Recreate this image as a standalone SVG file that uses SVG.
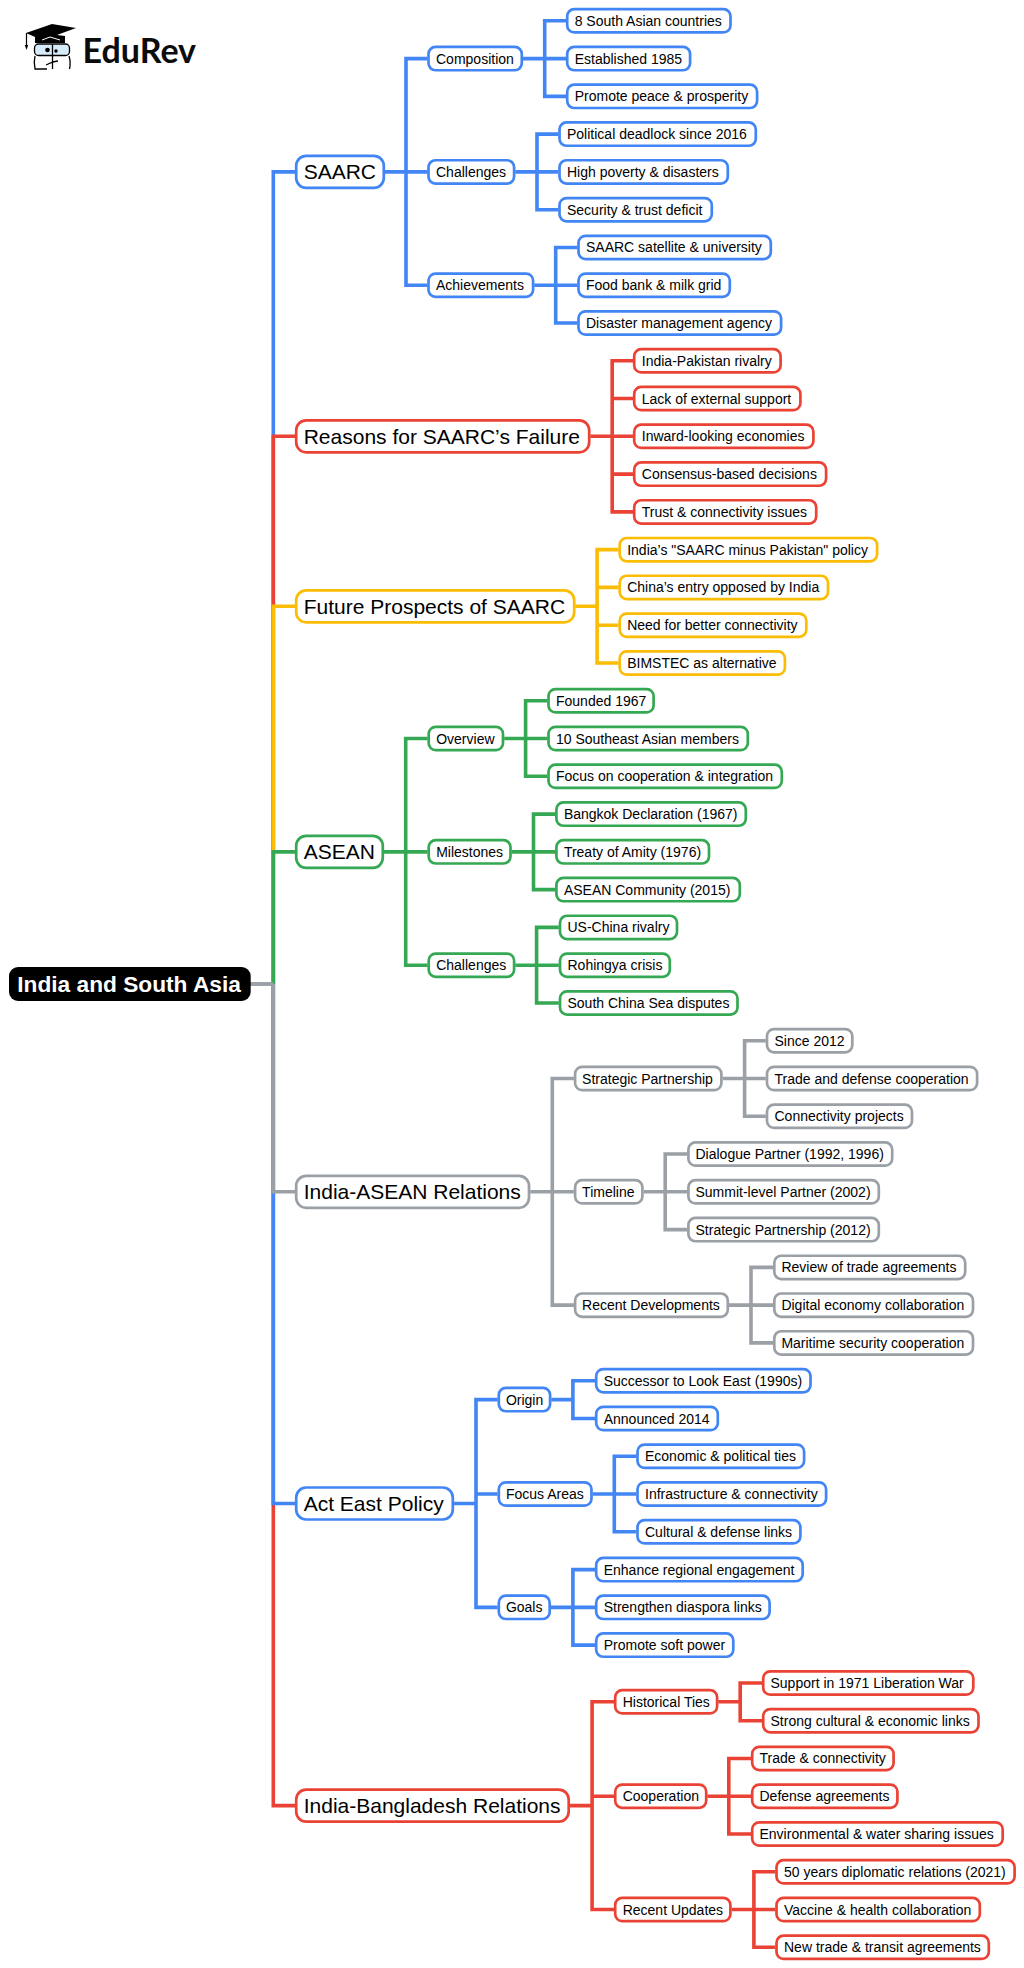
<svg xmlns="http://www.w3.org/2000/svg" width="1024" height="1968" viewBox="0 0 1024 1968">
<style>
text{font-family:"Liberation Sans",Arial,sans-serif;fill:#000}
rect{fill:#fff;stroke-width:2.7}
.n3 rect,.n2 rect{rx:7px}
.n1 rect{rx:10px}
.n3 text,.n2 text{font-size:14px}
.n1 text{font-size:21px}
.root rect{fill:#000;stroke:none;rx:9px}
.root text{font-size:22.700px;font-weight:bold;fill:#fff}
.logo text{font-family:Lato,"Open Sans",sans-serif;font-size:34px;font-weight:700;fill:#0c0c0c}
.b rect{stroke:#4285F4}.r rect{stroke:#EA4335}.y rect{stroke:#FBBC04}.g rect{stroke:#34A853}.k rect{stroke:#9AA0A6}
#connectors path{fill:none;stroke-width:3.600;stroke-linejoin:miter}
.cb{stroke:#4285F4}.cr{stroke:#EA4335}.cy{stroke:#FBBC04}.cg{stroke:#34A853}.ck{stroke:#9AA0A6}
</style>
<rect width="1024" height="1968" style="stroke:none"/>
<g id="logo" class="logo">
<path d="M26 33L52 24L76 28L57 35L65 36V43H35V37Z" fill="#000"/>
<path d="M26.500 33V46" stroke="#000" stroke-width="1.200" fill="none"/>
<path d="M24.800 45H28.200L26.500 50Z" fill="#000"/>
<path d="M42 40L50 37L60 40" stroke="#fff" stroke-width="1" fill="none"/>
<rect x="34.500" y="44" width="35" height="11.500" rx="4" style="fill:#d6ebf9;stroke:#000;stroke-width:1.300"/>
<path d="M35 56Q33.500 62 35 69H47M69 56Q71 62 69.500 69M52.500 44V62L46 65M52.500 62L58 61M52.500 62V69" fill="none" stroke="#000" stroke-width="1.300"/>
<circle cx="47.500" cy="50" r="2.300" fill="#000"/>
<circle cx="56" cy="51" r="1.700" fill="#000"/>
<text x="82.500" y="62.500">EduRev</text>
</g>
<g id="connectors">
<path class="cr" d="M273.300 984V1805.600H295"/>
<path class="cb" d="M273.300 984V1503.500H295"/>
<path class="ck" d="M250 984H273.300V1191.800H295"/>
<path class="cb" d="M273.300 984V171.900H295"/>
<path class="cr" d="M273.300 984V436.300H295"/>
<path class="cy" d="M273.300 984V606.300H295"/>
<path class="cg" d="M273.300 984V851.850H295"/>
<path class="ck" d="M250 984H273.300"/>
<path class="cb" d="M385 171.900H427.300M427.300 58.600H406V285.200H427.300"/>
<path class="cb" d="M523 58.600H566M566 20.800H544.700V96.350H566"/>
<path class="cb" d="M515.300 171.900H558.300M558.300 134.100H537V209.700H558.300"/>
<path class="cb" d="M534.300 285.200H577.300M577.300 247.450H555.700V323H577.300"/>
<path class="cr" d="M590.400 436.300H633M633 360.800H612.200V511.900H633M612.200 398.550H633M612.200 474.100H633"/>
<path class="cy" d="M575.400 606.300H597.100M618.500 549.650H597.100V663H618.500M597.100 587.400H618.500M597.100 625.200H618.500"/>
<path class="cg" d="M384 851.850H427.500M427.500 738.500H405.700V965.200H427.500"/>
<path class="cg" d="M504.200 738.500H547.300M547.300 700.750H525.600V776.300H547.300"/>
<path class="cg" d="M511.700 851.850H555.200M555.200 814.100H533.500V889.600H555.200"/>
<path class="cg" d="M515.300 965.200H558.800M558.800 927.400H536.600V1002.950H558.800"/>
<path class="ck" d="M530.200 1191.800H573.900M573.900 1078.500H552.300V1305.150H573.900"/>
<path class="ck" d="M722.600 1078.500H765.800M765.800 1040.700H744.600V1116.300H765.800"/>
<path class="ck" d="M643.600 1191.800H687.200M687.200 1154.050H665.200V1229.600H687.200"/>
<path class="ck" d="M729 1305.150H773.100M773.100 1267.400H751V1342.900H773.100"/>
<path class="cb" d="M454 1503.500H476M497.600 1399.600H476V1607.350H497.600M476 1494H497.600"/>
<path class="cb" d="M551.300 1399.600H572.900M595 1380.700H572.900V1418.500H595"/>
<path class="cb" d="M592.700 1494H636.300M636.300 1456.250H614.300V1531.800H636.300"/>
<path class="cb" d="M550.900 1607.350H595M595 1569.600H572.900V1645.100H595"/>
<path class="cr" d="M569.900 1805.600H592.100M614 1701.800H592.100V1909.550H614M592.100 1796.200H614"/>
<path class="cr" d="M718.300 1701.800H740.200M762 1683H740.200V1720.700H762"/>
<path class="cr" d="M707.400 1796.200H751M751 1758.450H728.800V1834H751"/>
<path class="cr" d="M731.600 1909.550H775.300M775.300 1871.800H753.900V1947.300H775.300"/>
</g>
<g id="root" class="root"><rect x="9" y="967" width="241.700" height="34"/><text x="17.300" y="992">India and South Asia</text></g>

<g id="saarc" class="n1 b"><rect x="296.200" y="155.900" width="87.600" height="32"/><text x="303.700" y="179.400">SAARC</text></g>
<g id="composition" class="n2 b"><rect x="428.500" y="46.950" width="93.300" height="23.300"/><text x="436" y="63.600">Composition</text></g>
<g id="saarc-challenges" class="n2 b"><rect x="428.500" y="160.250" width="85.600" height="23.300"/><text x="436" y="176.900">Challenges</text></g>
<g id="achievements" class="n2 b"><rect x="428.500" y="273.550" width="104.600" height="23.300"/><text x="436" y="290.200">Achievements</text></g>
<g id="s1" class="n3 b"><rect x="567.200" y="9.150" width="163.300" height="23.300"/><text x="574.700" y="25.800">8 South Asian countries</text></g>
<g id="s2" class="n3 b"><rect x="567.200" y="46.950" width="122.900" height="23.300"/><text x="574.700" y="63.600">Established 1985</text></g>
<g id="s3" class="n3 b"><rect x="567.200" y="84.700" width="189.900" height="23.300"/><text x="574.700" y="101.350">Promote peace &amp; prosperity</text></g>
<g id="s4" class="n3 b"><rect x="559.500" y="122.450" width="196.300" height="23.300"/><text x="567" y="139.100">Political deadlock since 2016</text></g>
<g id="s5" class="n3 b"><rect x="559.500" y="160.250" width="168.300" height="23.300"/><text x="567" y="176.900">High poverty &amp; disasters</text></g>
<g id="s6" class="n3 b"><rect x="559.500" y="198.050" width="152.300" height="23.300"/><text x="567" y="214.700">Security &amp; trust deficit</text></g>
<g id="s7" class="n3 b"><rect x="578.500" y="235.800" width="192.300" height="23.300"/><text x="586" y="252.450">SAARC satellite &amp; university</text></g>
<g id="s8" class="n3 b"><rect x="578.500" y="273.550" width="151.300" height="23.300"/><text x="586" y="290.200">Food bank &amp; milk grid</text></g>
<g id="s9" class="n3 b"><rect x="578.500" y="311.350" width="202.600" height="23.300"/><text x="586" y="328">Disaster management agency</text></g>

<g id="reasons" class="n1 r"><rect x="296.200" y="420.300" width="293" height="32"/><text x="303.700" y="443.800">Reasons for SAARC’s Failure</text></g>
<g id="r1" class="n3 r"><rect x="634.200" y="349.150" width="146.400" height="23.300"/><text x="641.800" y="365.800">India-Pakistan rivalry</text></g>
<g id="r2" class="n3 r"><rect x="634.200" y="386.900" width="166.200" height="23.300"/><text x="641.800" y="403.550">Lack of external support</text></g>
<g id="r3" class="n3 r"><rect x="634.200" y="424.650" width="179.200" height="23.300"/><text x="641.800" y="441.300">Inward-looking economies</text></g>
<g id="r4" class="n3 r"><rect x="634.200" y="462.450" width="191.900" height="23.300"/><text x="641.800" y="479.100">Consensus-based decisions</text></g>
<g id="r5" class="n3 r"><rect x="634.200" y="500.250" width="182" height="23.300"/><text x="641.800" y="516.900">Trust &amp; connectivity issues</text></g>

<g id="future" class="n1 y"><rect x="296.200" y="590.300" width="278" height="32"/><text x="303.700" y="613.800">Future Prospects of SAARC</text></g>
<g id="f1" class="n3 y"><rect x="619.700" y="538" width="257.400" height="23.300"/><text x="627.200" y="554.650">India’s "SAARC minus Pakistan" policy</text></g>
<g id="f2" class="n3 y"><rect x="619.700" y="575.750" width="208.300" height="23.300"/><text x="627.200" y="592.400">China’s entry opposed by India</text></g>
<g id="f3" class="n3 y"><rect x="619.700" y="613.550" width="186.600" height="23.300"/><text x="627.200" y="630.200">Need for better connectivity</text></g>
<g id="f4" class="n3 y"><rect x="619.700" y="651.350" width="165.200" height="23.300"/><text x="627.200" y="668">BIMSTEC as alternative</text></g>

<g id="asean" class="n1 g"><rect x="296.200" y="835.850" width="86.600" height="32"/><text x="303.700" y="859.350">ASEAN</text></g>
<g id="overview" class="n2 g"><rect x="428.700" y="726.850" width="74.300" height="23.300"/><text x="436.200" y="743.500">Overview</text></g>
<g id="milestones" class="n2 g"><rect x="428.700" y="840.200" width="81.800" height="23.300"/><text x="436.200" y="856.850">Milestones</text></g>
<g id="asean-challenges" class="n2 g"><rect x="428.700" y="953.550" width="85.400" height="23.300"/><text x="436.200" y="970.200">Challenges</text></g>
<g id="a1" class="n3 g"><rect x="548.500" y="689.100" width="105.100" height="23.300"/><text x="556" y="705.750">Founded 1967</text></g>
<g id="a2" class="n3 g"><rect x="548.500" y="726.850" width="199.300" height="23.300"/><text x="556" y="743.500">10 Southeast Asian members</text></g>
<g id="a3" class="n3 g"><rect x="548.500" y="764.650" width="233.300" height="23.300"/><text x="556" y="781.300">Focus on cooperation &amp; integration</text></g>
<g id="a4" class="n3 g"><rect x="556.400" y="802.450" width="189.400" height="23.300"/><text x="563.900" y="819.100">Bangkok Declaration (1967)</text></g>
<g id="a5" class="n3 g"><rect x="556.400" y="840.200" width="152.600" height="23.300"/><text x="563.900" y="856.850">Treaty of Amity (1976)</text></g>
<g id="a6" class="n3 g"><rect x="556.400" y="877.950" width="183.400" height="23.300"/><text x="563.900" y="894.600">ASEAN Community (2015)</text></g>
<g id="a7" class="n3 g"><rect x="560" y="915.750" width="117" height="23.300"/><text x="567.500" y="932.400">US-China rivalry</text></g>
<g id="a8" class="n3 g"><rect x="560" y="953.550" width="109.800" height="23.300"/><text x="567.500" y="970.200">Rohingya crisis</text></g>
<g id="a9" class="n3 g"><rect x="560" y="991.300" width="177.500" height="23.300"/><text x="567.500" y="1007.950">South China Sea disputes</text></g>

<g id="india-asean" class="n1 k"><rect x="296.200" y="1175.800" width="232.800" height="32"/><text x="303.700" y="1199.300">India-ASEAN Relations</text></g>
<g id="strategic" class="n2 k"><rect x="575.100" y="1066.850" width="146.300" height="23.300"/><text x="582.100" y="1083.500">Strategic Partnership</text></g>
<g id="timeline" class="n2 k"><rect x="575.100" y="1180.150" width="67.300" height="23.300"/><text x="582.100" y="1196.800">Timeline</text></g>
<g id="recent-dev" class="n2 k"><rect x="575.100" y="1293.500" width="152.700" height="23.300"/><text x="582.100" y="1310.150">Recent Developments</text></g>
<g id="i1" class="n3 k"><rect x="767" y="1029.050" width="85.300" height="23.300"/><text x="774.500" y="1045.700">Since 2012</text></g>
<g id="i2" class="n3 k"><rect x="767" y="1066.850" width="210.100" height="23.300"/><text x="774.500" y="1083.500">Trade and defense cooperation</text></g>
<g id="i3" class="n3 k"><rect x="767" y="1104.650" width="145" height="23.300"/><text x="774.500" y="1121.300">Connectivity projects</text></g>
<g id="i4" class="n3 k"><rect x="688.400" y="1142.400" width="203.800" height="23.300"/><text x="695.500" y="1159.050">Dialogue Partner (1992, 1996)</text></g>
<g id="i5" class="n3 k"><rect x="688.400" y="1180.150" width="190.400" height="23.300"/><text x="695.500" y="1196.800">Summit-level Partner (2002)</text></g>
<g id="i6" class="n3 k"><rect x="688.400" y="1217.950" width="190.400" height="23.300"/><text x="695.500" y="1234.600">Strategic Partnership (2012)</text></g>
<g id="i7" class="n3 k"><rect x="774.300" y="1255.750" width="190.900" height="23.300"/><text x="781.400" y="1272.400">Review of trade agreements</text></g>
<g id="i8" class="n3 k"><rect x="774.300" y="1293.500" width="198.700" height="23.300"/><text x="781.400" y="1310.150">Digital economy collaboration</text></g>
<g id="i9" class="n3 k"><rect x="774.300" y="1331.250" width="198.700" height="23.300"/><text x="781.400" y="1347.900">Maritime security cooperation</text></g>

<g id="act-east" class="n1 b"><rect x="296.200" y="1487.500" width="156.600" height="32"/><text x="303.700" y="1511">Act East Policy</text></g>
<g id="origin" class="n2 b"><rect x="498.800" y="1387.950" width="51.300" height="23.300"/><text x="505.900" y="1404.600">Origin</text></g>
<g id="focus" class="n2 b"><rect x="498.800" y="1482.350" width="92.700" height="23.300"/><text x="505.900" y="1499">Focus Areas</text></g>
<g id="goals" class="n2 b"><rect x="498.800" y="1595.700" width="50.900" height="23.300"/><text x="505.900" y="1612.350">Goals</text></g>
<g id="e1" class="n3 b"><rect x="596.200" y="1369.050" width="214.300" height="23.300"/><text x="603.700" y="1385.700">Successor to Look East (1990s)</text></g>
<g id="e2" class="n3 b"><rect x="596.200" y="1406.850" width="121.600" height="23.300"/><text x="603.700" y="1423.500">Announced 2014</text></g>
<g id="e3" class="n3 b"><rect x="637.500" y="1444.600" width="166.600" height="23.300"/><text x="645" y="1461.250">Economic &amp; political ties</text></g>
<g id="e4" class="n3 b"><rect x="637.500" y="1482.350" width="188.600" height="23.300"/><text x="645" y="1499">Infrastructure &amp; connectivity</text></g>
<g id="e5" class="n3 b"><rect x="637.500" y="1520.150" width="162.900" height="23.300"/><text x="645" y="1536.800">Cultural &amp; defense links</text></g>
<g id="e6" class="n3 b"><rect x="596.200" y="1557.950" width="206.500" height="23.300"/><text x="603.700" y="1574.600">Enhance regional engagement</text></g>
<g id="e7" class="n3 b"><rect x="596.200" y="1595.700" width="173.400" height="23.300"/><text x="603.700" y="1612.350">Strengthen diaspora links</text></g>
<g id="e8" class="n3 b"><rect x="596.200" y="1633.450" width="137.100" height="23.300"/><text x="603.700" y="1650.100">Promote soft power</text></g>

<g id="india-bangladesh" class="n1 r"><rect x="296.200" y="1789.600" width="272.500" height="32"/><text x="303.700" y="1813.100">India-Bangladesh Relations</text></g>
<g id="historical" class="n2 r"><rect x="615.200" y="1690.150" width="101.900" height="23.300"/><text x="622.700" y="1706.800">Historical Ties</text></g>
<g id="cooperation" class="n2 r"><rect x="615.200" y="1784.550" width="91" height="23.300"/><text x="622.700" y="1801.200">Cooperation</text></g>
<g id="recent-updates" class="n2 r"><rect x="615.200" y="1897.900" width="115.200" height="23.300"/><text x="622.700" y="1914.550">Recent Updates</text></g>
<g id="d1" class="n3 r"><rect x="763.200" y="1671.350" width="210.100" height="23.300"/><text x="770.500" y="1688">Support in 1971 Liberation War</text></g>
<g id="d2" class="n3 r"><rect x="763.200" y="1709.050" width="215.300" height="23.300"/><text x="770.500" y="1725.700">Strong cultural &amp; economic links</text></g>
<g id="d3" class="n3 r"><rect x="752.200" y="1746.800" width="141.400" height="23.300"/><text x="759.500" y="1763.450">Trade &amp; connectivity</text></g>
<g id="d4" class="n3 r"><rect x="752.200" y="1784.550" width="145.200" height="23.300"/><text x="759.500" y="1801.200">Defense agreements</text></g>
<g id="d5" class="n3 r"><rect x="752.200" y="1822.350" width="250.500" height="23.300"/><text x="759.500" y="1839">Environmental &amp; water sharing issues</text></g>
<g id="d6" class="n3 r"><rect x="776.500" y="1860.150" width="238.100" height="23.300"/><text x="784" y="1876.800">50 years diplomatic relations (2021)</text></g>
<g id="d7" class="n3 r"><rect x="776.500" y="1897.900" width="203.300" height="23.300"/><text x="784" y="1914.550">Vaccine &amp; health collaboration</text></g>
<g id="d8" class="n3 r"><rect x="776.500" y="1935.650" width="212.300" height="23.300"/><text x="784" y="1952.300">New trade &amp; transit agreements</text></g>
</svg>
